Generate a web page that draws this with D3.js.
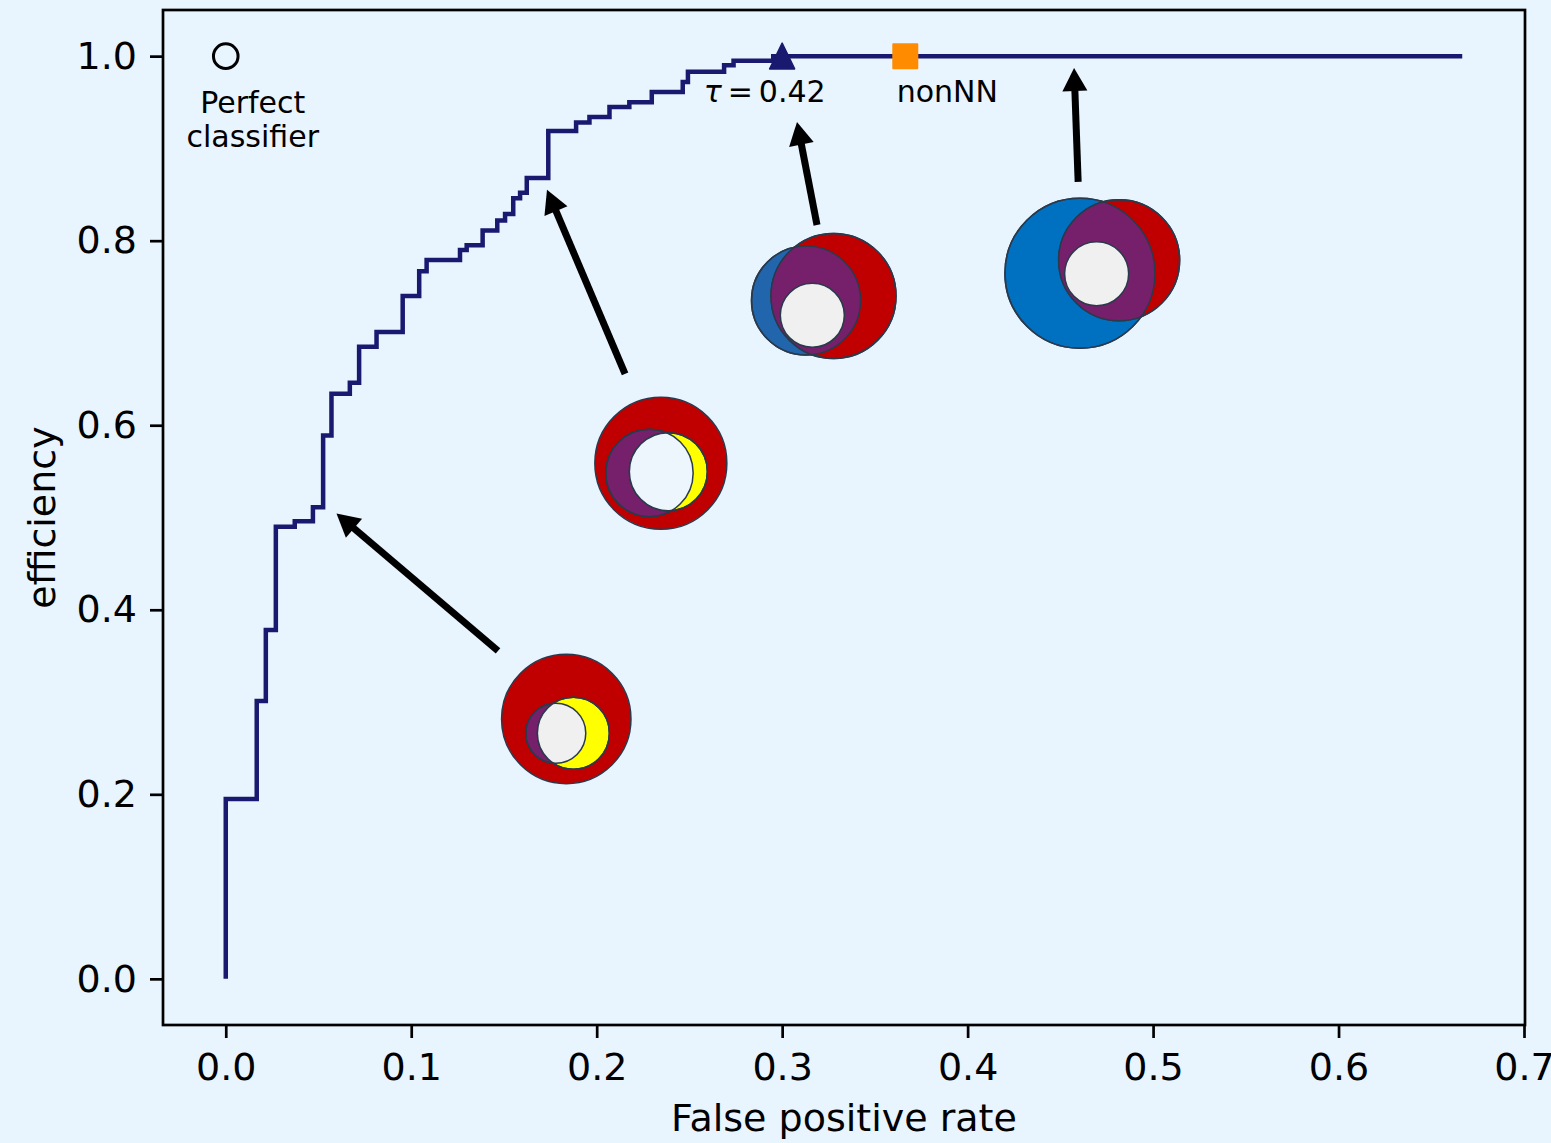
<!DOCTYPE html>
<html>
<head>
<meta charset="utf-8">
<script src="https://cdn.jsdelivr.net/npm/d3@7"></script>
<style>
  body { margin: 0; background: #e8f4fe; }
  text { font-family: "DejaVu Sans", sans-serif; }
</style>
</head>
<body>
<svg id="roc" width="1551" height="1143"></svg>
<script>
// ROC curve vertices (value after each jump)
const fpr = [0, 0, 0.0167, 0.0216, 0.027, 0.0372, 0.047, 0.0525, 0.057, 0.0669, 0.0719,
  0.0813, 0.0954, 0.1043, 0.1083, 0.1263, 0.1299, 0.1385, 0.1464, 0.1506, 0.155, 0.1587,
  0.1623, 0.1739, 0.1889, 0.1961, 0.2069, 0.2176, 0.2297, 0.2464, 0.2492, 0.2687, 0.2738,
  0.2952, 0.6667];
const eff = [0, 0.195, 0.301, 0.378, 0.490, 0.496, 0.511, 0.589, 0.634, 0.646, 0.685,
  0.701, 0.740, 0.767, 0.779, 0.790, 0.795, 0.811, 0.822, 0.829, 0.846, 0.852,
  0.868, 0.919, 0.928, 0.934, 0.945, 0.950, 0.961, 0.972, 0.983, 0.990, 0.995,
  1.0, 1.0];

const xTicks = [0, 0.1, 0.2, 0.3, 0.4, 0.5, 0.6, 0.7];
const yTicks = [0, 0.2, 0.4, 0.6, 0.8, 1.0];

const perfect = { fpr: 0, eff: 1.0, label: ["Perfect", "classifier"] };
const working = { fpr: 0.3, eff: 1.0, symbol: "τ", label: "\u2009=\u20090.42" };
const nonNN = { fpr: 0.3664, eff: 1.0, label: "nonNN" };

// arrows: tail and tip as [fpr, eff]
const arrowTails = [[0.1468, 0.3554], [0.2153, 0.6556], [0.3188, 0.8170], [0.4596, 0.8637]];
const arrowTips = [[0.0597, 0.5044], [0.1732, 0.8551], [0.3080, 0.9287], [0.4574, 0.9872]];

// venn glyph anchors (centre of the red circle)
const vennFpr = [0.1836, 0.2346, 0.3277, 0.4817];
const vennEff = [0.2817, 0.5588, 0.7401, 0.7788];

const svg = d3.select("#roc");
const mLeft = 164, mRight = 1524, mTop = 10, mBottom = 1025;

const x = d3.scaleLinear().domain([-0.0333, 0.7]).range([mLeft, mRight]);
const y = d3.scaleLinear().domain([-0.05, 1.05]).range([mBottom, mTop]);

const bg = "#e8f4fe";
svg.append("rect").attr("width", 1551).attr("height", 1143).attr("fill", bg);

// Axes
const xAxis = svg.append("g")
  .attr("transform", `translate(0,${mBottom})`)
  .call(d3.axisBottom(x).tickValues(xTicks).tickFormat(d3.format(".1f")).tickSize(13).tickPadding(15));
const yAxis = svg.append("g")
  .attr("transform", `translate(${mLeft - 1},0)`)
  .call(d3.axisLeft(y).tickValues(yTicks).tickFormat(d3.format(".1f")).tickSize(13).tickPadding(13));

[xAxis, yAxis].forEach(a => {
  a.select(".domain").remove();
  a.selectAll(".tick line").attr("stroke", "#000").attr("stroke-width", 2.7);
  a.selectAll(".tick text").attr("font-size", 38).attr("fill", "#000")
    .attr("font-family", "DejaVu Sans");
});

svg.append("text")
  .attr("text-anchor", "middle")
  .attr("x", (mLeft + mRight) / 2)
  .attr("y", 1131)
  .attr("font-size", 38)
  .text("False positive rate");

svg.append("text")
  .attr("text-anchor", "middle")
  .attr("transform", "rotate(-90)")
  .attr("x", -(mTop + mBottom) / 2)
  .attr("y", 55)
  .attr("font-size", 38)
  .text("efficiency");

// ROC line
const pts = fpr.map((f, i) => [f, eff[i]]);
svg.append("path")
  .datum(pts)
  .attr("fill", "none")
  .attr("stroke", "#191970")
  .attr("stroke-width", 4.5)
  .attr("d", d3.line().x(d => x(d[0])).y(d => y(d[1])).curve(d3.curveStepAfter));

// Perfect classifier marker
svg.append("circle")
  .attr("cx", x(perfect.fpr)).attr("cy", y(perfect.eff)).attr("r", 12.3)
  .attr("fill", "none").attr("stroke", "#000").attr("stroke-width", 3);
perfect.label.forEach((t, i) => {
  svg.append("text")
    .attr("text-anchor", "middle")
    .attr("x", x(perfect.fpr) + 27)
    .attr("y", y(perfect.eff) + 57 + i * 33.5)
    .attr("font-size", 30)
    .text(t);
});

// working point triangle
const tx = x(working.fpr), ty = y(working.eff);
svg.append("path")
  .attr("d", `M${tx},${ty - 13}L${tx + 12.5},${ty + 12.8}L${tx - 12.5},${ty + 12.8}Z`)
  .attr("fill", "#191970").attr("stroke", "#191970").attr("stroke-width", 1.5)
  .attr("stroke-linejoin", "round");
const tl = svg.append("text")
  .attr("text-anchor", "middle")
  .attr("x", tx - 17.5).attr("y", ty + 45.5)
  .attr("font-size", 30);
tl.append("tspan").attr("font-style", "italic").text(working.symbol);
tl.append("tspan").text(working.label);

// nonNN square
const sx = x(nonNN.fpr), sy = y(nonNN.eff);
svg.append("rect")
  .attr("x", sx - 12).attr("y", sy - 12).attr("width", 24).attr("height", 24)
  .attr("fill", "#ff8c00").attr("stroke", "#ff8c00").attr("stroke-width", 2)
  .attr("stroke-linejoin", "round");
svg.append("text")
  .attr("text-anchor", "middle")
  .attr("x", sx + 42).attr("y", sy + 45.5)
  .attr("font-size", 30)
  .text(nonNN.label);

// Arrows
arrowTails.forEach((s, i) => {
  const t = arrowTips[i];
  const x0 = x(s[0]), y0 = y(s[1]), x1 = x(t[0]), y1 = y(t[1]);
  const len = Math.hypot(x1 - x0, y1 - y0);
  const ux = (x1 - x0) / len, uy = (y1 - y0) / len;
  const headLen = 23, headW = 25;
  const bx = x1 - ux * headLen, by = y1 - uy * headLen;
  svg.append("line")
    .attr("x1", x0).attr("y1", y0).attr("x2", bx + ux * 2).attr("y2", by + uy * 2)
    .attr("stroke", "#000").attr("stroke-width", 7);
  svg.append("path")
    .attr("d", `M${x1},${y1}L${bx - uy * headW / 2},${by + ux * headW / 2}L${bx + uy * headW / 2},${by - ux * headW / 2}Z`)
    .attr("fill", "#000");
});

// Venn glyphs (offsets in px from the red circle centre)
const edge = "#2a3a4c";
const glyphs = [
  { kind: "nested", r: 64.7, a: [-10.5, 14.3, 30], b: [7.1, 14.3, 36], lens: "#f0f0f0" },
  { kind: "nested", r: 66, a: [-11.4, 9.7, 43.7], b: [7.5, 8.4, 39], lens: "#eef6fd" },
  { kind: "overlap", r: 62.5, a: [-27.5, 4.5, 54.5], w: [-21.2, 19.3, 32], blue: "#2166ac" },
  { kind: "overlap", r: 60.5, a: [-39.2, 13, 75], w: [-22.5, 13.5, 32], blue: "#0070c0" }
];

const defs = svg.append("defs");
vennFpr.forEach((f, i) => {
  const g = glyphs[i];
  const cx = x(f), cy = y(vennEff[i]);
  const gg = svg.append("g");
  const circ = (c, fill) => gg.append("circle")
    .attr("cx", cx + c[0]).attr("cy", cy + c[1]).attr("r", c[2])
    .attr("fill", fill).attr("stroke", edge).attr("stroke-width", 1.5);
  const red = [0, 0, g.r];
  defs.append("clipPath").attr("id", "clip" + i)
    .append("circle").attr("cx", cx + g.a[0]).attr("cy", cy + g.a[1]).attr("r", g.a[2]);
  if (g.kind === "nested") {
    circ(red, "#c00000");
    circ(g.a, "#76206c");
    circ(g.b, "#ffff00");
    gg.append("circle").attr("cx", cx + g.b[0]).attr("cy", cy + g.b[1]).attr("r", g.b[2])
      .attr("fill", g.lens).attr("clip-path", `url(#clip${i})`);
    circ(g.a, "none");
    circ(g.b, "none");
  } else {
    circ(g.a, g.blue);
    circ(red, "#c00000");
    gg.append("circle").attr("cx", cx).attr("cy", cy).attr("r", g.r)
      .attr("fill", "#76206c").attr("clip-path", `url(#clip${i})`);
    circ(g.a, "none");
    circ(red, "none");
    circ(g.w, "#f0f0f0");
  }
});

// frame
svg.append("rect")
  .attr("x", 163).attr("y", mTop).attr("width", 1525 - 163).attr("height", mBottom - mTop)
  .attr("fill", "none").attr("stroke", "#000").attr("stroke-width", 2.7);
</script>
</body>
</html>
